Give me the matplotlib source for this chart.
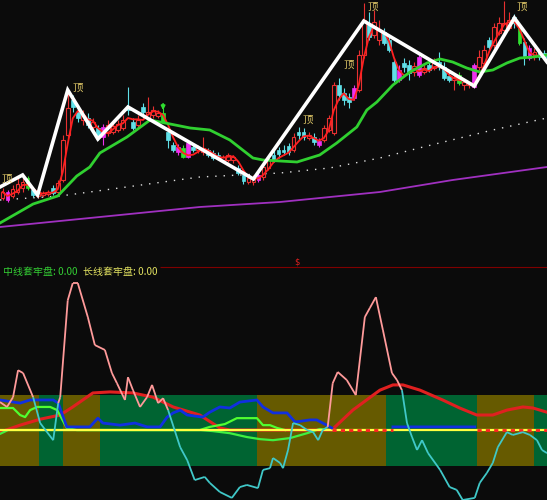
import numpy as np
import pandas as pd
import matplotlib
matplotlib.use('Agg')
import matplotlib.pyplot as plt
from matplotlib.patches import Rectangle
from matplotlib.collections import LineCollection

# ---- K-line data (price) ----
open_ = [6.4, 7.0, 6.6, 7.0, 7.4, 8.4, 7.2, 6.6, 6.7, 6.8,
         7.4, 7.0, 8.2, 12.7, 16.2, 15.0, 14.2, 14.4, 13.5, 13.4,
         13.5, 12.9, 13.0, 13.2, 13.4, 15.5, 14.0, 13.7, 15.5, 14.4,
         14.7, 14.6, 14.9, 13.0, 11.7, 11.5, 11.4, 11.9, 11.5, 11.2,
         11.0, 11.2, 10.9, 10.7, 10.2, 10.2, 10.2, 9.4, 8.7, 8.0,
         8.0, 8.7, 8.5, 9.4, 10.7, 11.2, 11.2, 11.6, 11.2, 13.0,
         13.0, 12.4, 12.5, 12.1, 12.2, 13.2, 12.9, 17.7, 16.9, 16.5,
         17.4, 17.2, 20.7, 23.7, 22.7, 22.2, 23.0, 22.2, 20.0, 19.2,
         19.9, 19.7, 19.0, 20.5, 19.0, 19.7, 19.4, 20.0, 19.5, 18.6,
         18.2, 18.7, 17.7, 17.7, 19.7, 19.5, 19.9, 22.2, 21.7, 22.9,
         23.2, 23.4, 24.5, 23.4, 22.0, 21.4, 20.5, 21.0, 20.9]
close_ = [7.0, 6.2, 7.3, 7.8, 8.0, 7.4, 6.7, 6.9, 6.9, 7.0,
          6.9, 7.9, 12.2, 15.4, 15.5, 14.4, 14.7, 13.7, 14.0, 12.5,
          12.5, 13.7, 13.6, 13.8, 14.2, 15.2, 13.4, 14.2, 15.0, 15.0,
          15.2, 14.9, 14.0, 12.2, 11.2, 11.0, 10.5, 10.5, 11.2, 11.4,
          11.4, 10.7, 10.4, 10.4, 10.5, 10.7, 10.5, 8.9, 8.1, 8.4,
          8.5, 8.2, 9.5, 10.2, 10.2, 10.8, 11.0, 11.0, 12.5, 12.7,
          12.5, 12.7, 12.0, 11.7, 13.4, 14.4, 17.7, 16.7, 16.2, 16.0,
          16.4, 20.7, 24.2, 22.5, 24.0, 23.2, 21.9, 21.2, 18.2, 18.2,
          19.5, 18.9, 19.6, 18.7, 19.4, 19.2, 19.9, 19.5, 18.4, 18.2,
          18.5, 17.9, 18.0, 17.8, 17.5, 20.5, 21.2, 21.5, 23.5, 23.9,
          23.9, 24.2, 23.9, 21.9, 20.6, 20.4, 21.0, 20.5, 20.4]
high_ = [7.4, 7.2, 7.7, 8.5, 8.7, 8.6, 7.4, 7.2, 7.1, 7.2,
         7.7, 8.2, 12.7, 17.2, 16.7, 15.7, 15.2, 14.9, 14.4, 13.7,
         13.8, 14.2, 13.9, 14.2, 14.7, 17.5, 14.4, 14.7, 15.9, 16.5,
         15.6, 15.2, 15.4, 13.4, 12.0, 11.8, 11.7, 12.2, 11.7, 11.7,
         12.5, 11.4, 11.2, 11.0, 10.7, 10.9, 10.7, 9.7, 9.0, 8.7,
         8.7, 9.0, 9.7, 10.5, 11.2, 11.5, 11.7, 11.9, 12.9, 13.5,
         13.4, 13.0, 12.9, 12.4, 13.7, 14.7, 18.0, 18.4, 17.4, 16.9,
         17.7, 21.2, 25.9, 25.0, 25.2, 24.2, 23.4, 22.7, 20.4, 19.7,
         20.4, 20.2, 20.0, 20.7, 19.9, 20.0, 20.4, 21.0, 20.0, 19.0,
         18.8, 19.0, 18.2, 18.0, 19.9, 21.2, 21.7, 22.5, 23.9, 24.5,
         26.1, 25.0, 24.8, 23.7, 22.4, 21.7, 21.4, 21.2, 21.2]
low_ = [6.2, 6.0, 6.4, 6.8, 7.0, 7.2, 6.5, 6.4, 6.5, 6.6,
        6.7, 6.8, 8.0, 12.4, 15.0, 14.0, 13.7, 13.4, 13.2, 12.2,
        11.7, 12.6, 12.8, 13.0, 13.2, 14.7, 13.2, 13.4, 14.4, 14.2,
        14.4, 14.4, 13.9, 11.4, 11.0, 10.7, 10.4, 10.4, 11.0, 10.9,
        10.7, 10.5, 10.2, 10.2, 10.0, 10.0, 9.9, 8.7, 7.8, 7.8,
        7.7, 8.0, 8.2, 9.2, 10.0, 10.4, 10.7, 10.7, 11.0, 12.2,
        12.2, 12.2, 11.7, 11.5, 12.0, 13.0, 12.7, 16.2, 15.7, 15.4,
        16.2, 17.0, 20.4, 22.2, 22.4, 21.7, 21.7, 21.0, 18.0, 18.0,
        19.0, 18.2, 18.6, 18.5, 18.8, 19.0, 19.2, 19.2, 18.2, 18.0,
        17.2, 17.7, 17.2, 17.4, 17.4, 19.2, 19.6, 21.2, 21.4, 22.7,
        22.9, 23.2, 23.4, 21.7, 19.7, 20.2, 20.2, 20.2, 20.2]
# u = red hollow, d = cyan, m = magenta, g = green
kinds = ("umuuugduuu" "duuuddudud" "muuuuddudu" "uugddmgmdu" "uddduuuddu"
         "umuuddddud" "dudmuuuddd" "muuduudddm" "ddumududdd" "uguumuuduu"
         "uudgdmudd")

# zigzag (white)
zz_x = [-0.5, 4, 7, 13, 19, 25, 50, 72, 94, 102, 108.5]
zz_y = [7.5, 8.7, 6.7, 17.2, 12.3, 15.5, 8.3, 24.1, 17.6, 24.4, 20.0]

# mid MA (green)
mid_x = [-0.5, 6.1, 11.0, 14.8, 17.4, 19.4, 24.8, 29.4, 32.4, 37.4, 41.3, 45.3,
         49.9, 51.9, 58.7, 63.2, 66.6, 70.6, 72.6, 74.6, 77.8, 81.2, 84.6, 87.2,
         89.7, 92.5, 95.1, 97.7, 100.5, 103.1, 105.7, 108.5]
mid_y = [3.9, 5.8, 6.6, 8.6, 9.5, 10.9, 12.5, 14.2, 13.9, 13.4, 13.2, 12.2,
         10.4, 10.2, 10.0, 10.7, 11.9, 13.5, 15.2, 16.0, 17.7, 19.0, 19.9, 20.3,
         20.0, 19.4, 19.0, 19.2, 19.9, 20.4, 20.5, 20.7]
# long MA (white dotted)
long_x = [-0.5, 11.5, 17.4, 39.3, 55.3, 65.2, 75.2, 84.6, 97.7, 108.5]
long_y = [6.2, 6.6, 7.0, 8.5, 8.9, 9.4, 10.4, 11.6, 13.2, 14.4]
# longer MA (purple)
pur_x = [-0.5, 17.4, 39.3, 55.3, 75.2, 89.7, 108.5]
pur_y = [3.5, 4.4, 5.5, 6.0, 7.0, 8.2, 9.5]

top_x = [0.8, 15.0, 60.9, 69.0, 73.8, 103.5]
top_y = [8.3, 17.4, 14.2, 19.7, 25.5, 25.5]

# ---- indicator panel ----
band_edges = [-0.5, 7.3, 12.0, 19.4, 50.7, 76.4, 94.5, 105.9, 108.5]
band_cols = ['#665a00', '#006432', '#665a00', '#006432',
             '#665a00', '#006432', '#665a00', '#006432']

osc_x = [-0.5, 0.9, 2.1, 3.1, 4.1, 6.1, 7.5, 10.1, 11.1, 11.5,
         13.0, 14.0, 15.0, 17.0, 18.4, 20.4, 21.8, 22.8, 24.4, 25.0,
         26.0, 27.4, 28.8, 29.8, 31.0, 32.0, 33.0, 35.4, 36.8, 38.3,
         40.3, 41.3, 43.3, 45.7, 47.3, 48.7, 50.9, 51.9, 53.3, 53.9,
         55.3, 55.9, 56.9, 57.9, 59.3, 60.7, 61.9, 62.9, 63.8, 64.8,
         65.8, 66.8, 68.6, 70.4, 72.2, 73.2, 74.4, 75.8, 77.6, 78.6,
         79.6, 80.6, 81.6, 82.6, 83.6, 84.8, 87.2, 89.1, 90.5, 91.7,
         94.1, 95.1, 96.5, 97.7, 98.7, 100.5, 101.7, 103.7, 105.1, 106.5,
         107.5, 108.5]
osc_v = [8.0, 6.6, 9.4, 17.1, 16.3, 9.4, 2.0, -2.9, 7.7, 9.4,
         37.1, 42.0, 42.0, 32.3, 24.3, 22.9, 16.3, 13.4, 8.6, 15.1,
         11.4, 6.6, 9.4, 12.9, 7.7, 9.1, 5.7, -4.9, -8.6, -14.3,
         -13.4, -15.1, -17.7, -19.4, -16.3, -15.7, -16.6, -11.4, -10.9, -8.0,
         -9.4, -10.9, -5.7, 2.0, 1.4, 0.0, -0.6, -2.9, 0.0, 0.9,
         13.4, 16.6, 14.3, 10.0, 32.3, 34.9, 38.0, 28.6, 16.3, 14.3,
         11.4, 2.0, -2.0, -5.7, -2.9, -6.6, -11.4, -16.3, -17.1, -20.0,
         -19.4, -15.1, -12.3, -9.4, -4.9, -0.6, -1.4, -0.6, -1.4, -2.9,
         -5.7, -6.6]

red_x = [-0.5, 3.5, 7.5, 11.5, 14.0, 18.0, 21.4, 26.0, 30.0, 34.0, 39.3, 43.3,
         45.3, 65.6, 69.8, 75.2, 77.8, 79.8, 83.2, 87.7, 91.1, 94.5, 97.7,
         100.5, 103.7, 105.7, 108.5]
red_v = [-0.6, 1.4, 3.1, 4.3, 6.6, 10.6, 10.9, 10.6, 9.4, 6.6, 4.3, 0.6,
         0.0, 0.0, 5.7, 11.4, 12.9, 12.9, 11.4, 8.6, 6.3, 4.3, 4.3,
         5.7, 6.6, 6.3, 5.1]

blue_x = [-0.5, 3.5, 5.5, 10.1, 11.1, 12.8, 14.8, 17.4, 19.0, 20.0, 23.4, 26.4,
          28.8, 31.4, 32.8, 34.0, 35.4, 36.8, 39.9, 41.3, 43.3, 45.3, 47.3, 50.7,
          51.9, 53.9, 56.7, 58.3, 61.3, 62.6, 64.6, 65.6, 70.0, 77.8, 94.1]
blue_v = [8.6, 7.7, 8.6, 8.6, 7.7, 0.9, 0.9, 0.9, 3.4, 2.0, 1.4, 2.0,
          0.9, 0.9, 3.7, 4.9, 5.7, 4.3, 3.7, 5.1, 6.6, 6.3, 8.0, 8.6,
          6.6, 4.9, 4.9, 2.3, 2.9, 2.9, 1.4, 0.6, np.nan, 0.9, 0.9]

lime_x = [-0.5, 2.1, 3.5, 4.5, 5.5, 6.9, 9.5, 10.9, 12.8, 14.8, 39.3, 41.3,
          44.3, 46.7, 50.7, 51.9, 53.3, 54.7, 56.3]
lime_v = [6.3, 6.3, 4.3, 3.7, 5.7, 6.6, 6.6, 5.7, 0.6, 0.0, 0.0, 0.9,
          1.7, 3.4, 3.4, 1.4, 1.4, 0.6, 0.0]

slime_x = [-0.5, 1.1, 39.3, 41.9, 45.3, 48.7, 51.3, 53.9, 57.3, 60.7, 63.2, 65.6]
slime_v = [-1.1, 0.0, 0.0, -0.3, -0.9, -2.0, -2.6, -2.9, -2.3, -0.9, 0.3, 0.0]

dot_spans = [(65.6, 77.8), (94.5, 108.5)]

bg = '#0b0b0b'
cjk = ['Noto Sans CJK SC', 'DejaVu Sans']

fig = plt.figure(figsize=(5.47, 5.0), dpi=100, facecolor=bg)
ax = fig.add_axes([0, 1 - 262 / 500, 1, 262 / 500])
ax2 = fig.add_axes([0, 0, 1, 234 / 500])
for a in (ax, ax2):
    a.set_facecolor(bg)
    a.set_xlim(-0.5, 108.5)
    a.set_axis_off()
ax.set_ylim(0, 26.2)
ax2.set_ylim(-20, 46.9)

# long averages
ax.plot(pur_x, pur_y, color='#a030c0', lw=1.3, zorder=1)
ax.plot(long_x, long_y, color='#e0e0e0', lw=1.0, ls=(0, (1, 5)), zorder=1)

# candles
colors = {'u': '#e83030', 'd': '#60e0e8', 'm': '#ee30ee', 'g': '#30e030'}
w = 0.75
for i, k in enumerate(kinds):
    o, c, h, l = open_[i], close_[i], high_[i], low_[i]
    lo, hi = min(o, c), max(o, c)
    col = colors[k]
    if k == 'u':
        ax.vlines(i, hi, h, color=col, lw=0.8, zorder=3)
        ax.vlines(i, l, lo, color=col, lw=0.8, zorder=3)
        ax.add_patch(Rectangle((i - w / 2, lo), w, max(hi - lo, 0.05),
                               facecolor=bg, edgecolor=col, lw=0.8, zorder=3))
    else:
        ax.vlines(i, l, h, color=col, lw=0.8, zorder=3)
        ax.add_patch(Rectangle((i - w / 2, lo), w, max(hi - lo, 0.1),
                               facecolor=col, edgecolor=col, lw=0.5, zorder=3))

# short MA
ma_short = pd.Series(close_).rolling(3, min_periods=1).mean()
ax.plot(np.arange(len(close_)), ma_short, color='#ff2020', lw=1.3, zorder=4)
ax.plot(mid_x, mid_y, color='#30d030', lw=2.0, zorder=4)
ax.plot(zz_x, zz_y, color='white', lw=2.6, zorder=5, solid_joinstyle='miter')

for x, y in zip(top_x, top_y):
    ax.text(x, y, '顶', color='#e0c868', fontsize=7.5, ha='center', va='center',
            family=cjk, zorder=6)
ax.annotate('', xy=(32, 14.9), xytext=(32, 16.1),
            arrowprops=dict(arrowstyle='-|>', color='#30e030', lw=1.2,
                            mutation_scale=6), zorder=6)

# indicator panel
for x0, x1, c in zip(band_edges[:-1], band_edges[1:], band_cols):
    ax2.fill_between([x0, x1], -10.3, 10, color=c, lw=0, zorder=0)
ax2.plot(red_x, red_v, color='#e02020', lw=2.2, zorder=2)
ax2.plot(slime_x, slime_v, color='#40f040', lw=1.6, zorder=2)
ax2.plot(lime_x, lime_v, color='#50ff30', lw=1.6, zorder=2)
ax2.axhline(0, color='#ffff40', lw=1.6, zorder=3)
ax2.plot(blue_x, blue_v, color='#1030e0', lw=2.0, zorder=4)
for x0, x1 in dot_spans:
    ax2.plot([x0, x1], [0, 0], color='#ff2020', lw=2.0, ls=(0, (1.5, 1.5)), zorder=5)

pts = np.column_stack([osc_x, osc_v])
segs = np.stack([pts[:-1], pts[1:]], axis=1)
seg_col = ['#ff9a9a' if (a + b) / 2 > 7 else '#40c8c8'
           for a, b in zip(osc_v[:-1], osc_v[1:])]
ax2.add_collection(LineCollection(segs, colors=seg_col, linewidths=1.3, zorder=6))

ax2.hlines(46.6, 31.4, 108.5, color='#800000', lw=0.8)

fig.text(3 / 547, 1 - 272 / 500, '中线套牢盘: 0.00', color='#33cc33',
         fontsize=7.2, va='center', family=cjk)
fig.text(83 / 547, 1 - 272 / 500, '长线套牢盘: 0.00', color='#e0e060',
         fontsize=7.2, va='center', family=cjk)
fig.text(297 / 547, 1 - 262 / 500, '$', color='#e02020', fontsize=6,
         ha='center', va='center')

fig.savefig('out.png', dpi=100, facecolor=bg)
